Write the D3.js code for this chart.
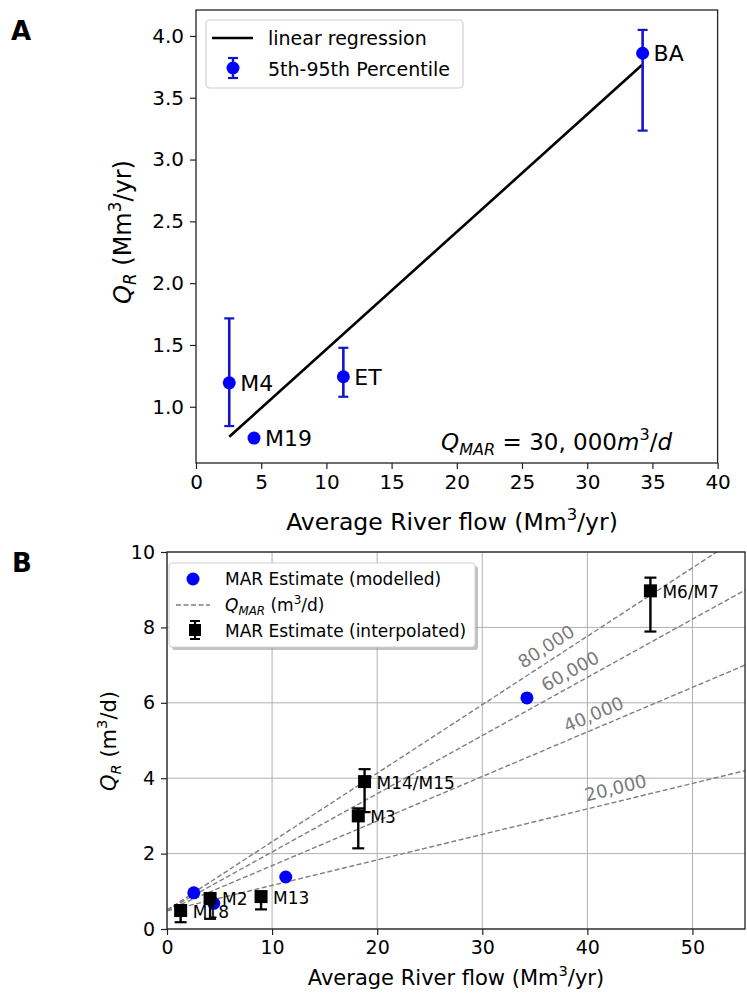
<!DOCTYPE html>
<html><head><meta charset="utf-8">
<script src="https://cdn.jsdelivr.net/npm/d3@7"></script>
<style>body{margin:0;background:#fff}svg{display:block}text{font-family:"DejaVu Sans",sans-serif}</style>
</head><body>
<svg id="c" width="747" height="994"></svg>
<script>
// ---------- Panel A data ----------
const sitesA = ["M4", "M19", "ET", "BA"];
const riverA = [2.55, 4.45, 11.3, 34.25];
const qrA = [1.194, 0.747, 1.243, 3.86];
const qrA_lo = [0.844, 0.747, 1.081, 3.234];
const qrA_hi = [1.715, 0.747, 1.477, 4.049];
const regX = [2.55, 34.2];
const regY = [0.757, 3.765];
const ticksAx = [0, 5, 10, 15, 20, 25, 30, 35, 40];
const ticksAy = [1.0, 1.5, 2.0, 2.5, 3.0, 3.5, 4.0];

// ---------- Panel B data ----------
const modelX = [2.55, 4.45, 11.3, 34.25];
const modelY = [0.96, 0.68, 1.38, 6.13];
const interpSites = ["M18", "M2", "M13", "M3", "M14/M15", "M6/M7"];
const interpX = [1.3, 4.1, 8.95, 18.2, 18.8, 46.0];
const interpY = [0.49, 0.81, 0.86, 3.0, 3.91, 8.97];
const interpLo = [0.18, 0.27, 0.52, 2.14, 3.1, 7.89];
const interpHi = [0.58, 0.92, 0.98, 3.2, 4.24, 9.32];
const qmarLabels = ["20,000", "40,000", "60,000", "80,000"];
const qmarAt0 = [0.48, 0.5, 0.5, 0.5];
const qmarAt55 = [4.2, 7.0, 8.99, 10.49];
const qmarLabelX = [43.0, 41.1, 39.0, 36.8];
const ticksBx = [0, 10, 20, 30, 40, 50];
const ticksBy = [0, 2, 4, 6, 8, 10];

const svg = d3.select("#c");

function rich(g, x, y, segs, size, opts = {}) {
  const t = g.append("text").attr("x", x).attr("y", y).attr("font-size", size)
    .attr("fill", opts.fill || "#000").attr("text-anchor", opts.anchor || "start");
  if (opts.transform) t.attr("transform", opts.transform);
  let shift = 0;
  segs.forEach(s => {
    const sp = t.append("tspan").text(s.t);
    let target = 0, fs = size;
    if (s.sub) { target = 0.22 * size; fs = 0.7 * size; }
    if (s.sup) { target = -0.42 * size; fs = 0.7 * size; }
    sp.attr("dy", target - shift).attr("font-size", fs);
    if (s.it) sp.attr("font-style", "italic");
    shift = target;
  });
  return t;
}

// ================= Panel A =================
const xA = d3.scaleLinear().domain([0, 40]).range([196, 717.6]);
const yA = d3.scaleLinear().domain([0.545, 4.21]).range([463, 10]);
const gA = svg.append("g");

gA.append("g").attr("transform", "translate(0,463)")
  .call(d3.axisBottom(xA).tickValues(ticksAx).tickFormat(d3.format("d")).tickSize(6).tickPadding(6))
  .call(g => g.select(".domain").remove())
  .call(g => g.selectAll("text").attr("font-size", 20).attr("fill", "#000").style("font-family", "DejaVu Sans"))
  .call(g => g.selectAll("line").attr("stroke", "#222").attr("stroke-width", 1.2));
gA.append("g").attr("transform", "translate(196,0)")
  .call(d3.axisLeft(yA).tickValues(ticksAy).tickFormat(d3.format(".1f")).tickSize(6).tickPadding(6))
  .call(g => g.select(".domain").remove())
  .call(g => g.selectAll("text").attr("font-size", 20).attr("fill", "#000").style("font-family", "DejaVu Sans"))
  .call(g => g.selectAll("line").attr("stroke", "#222").attr("stroke-width", 1.2));
gA.append("rect").attr("x", xA(0)).attr("y", yA(4.21)).attr("width", xA(40) - xA(0)).attr("height", yA(0.545) - yA(4.21))
  .attr("fill", "none").attr("stroke", "#222").attr("stroke-width", 1.3);

// regression
gA.append("line").attr("x1", xA(regX[0])).attr("y1", yA(regY[0])).attr("x2", xA(regX[1])).attr("y2", yA(regY[1]))
  .attr("stroke", "#000").attr("stroke-width", 2.6);

// error bars + points
sitesA.forEach((s, i) => {
  const cx = xA(riverA[i]);
  if (qrA_hi[i] - qrA_lo[i] > 0.01) {
    gA.append("line").attr("x1", cx).attr("x2", cx).attr("y1", yA(qrA_lo[i])).attr("y2", yA(qrA_hi[i]))
      .attr("stroke", "#1414c8").attr("stroke-width", 2.6);
    [qrA_lo[i], qrA_hi[i]].forEach(v => gA.append("line").attr("x1", cx - 5).attr("x2", cx + 5)
      .attr("y1", yA(v)).attr("y2", yA(v)).attr("stroke", "#1414c8").attr("stroke-width", 2.2));
  }
  gA.append("circle").attr("cx", cx).attr("cy", yA(qrA[i])).attr("r", 6.5).attr("fill", "#0000ff");
  gA.append("text").attr("x", cx + 11).attr("y", yA(qrA[i]) + 8).attr("font-size", 22).text(s);
});

// legend A
gA.append("rect").attr("x", 206).attr("y", 20).attr("width", 257).attr("height", 68).attr("rx", 4)
  .attr("fill", "#fff").attr("fill-opacity", 0.85).attr("stroke", "#d0d0d0").attr("stroke-width", 1.2);
gA.append("line").attr("x1", 212).attr("x2", 253).attr("y1", 38).attr("y2", 38).attr("stroke", "#000").attr("stroke-width", 2.6);
gA.append("text").attr("x", 268).attr("y", 45).attr("font-size", 19).text("linear regression");
gA.append("line").attr("x1", 233).attr("x2", 233).attr("y1", 58).attr("y2", 78).attr("stroke", "#1414c8").attr("stroke-width", 2.4);
[58, 78].forEach(v => gA.append("line").attr("x1", 228).attr("x2", 238).attr("y1", v).attr("y2", v).attr("stroke", "#1414c8").attr("stroke-width", 2.2));
gA.append("circle").attr("cx", 233).attr("cy", 68).attr("r", 6.5).attr("fill", "#0000ff");
gA.append("text").attr("x", 268).attr("y", 76).attr("font-size", 19).text("5th-95th Percentile");

// annotation
rich(gA, 672, 450, [{t: "Q", it: true}, {t: "MAR", it: true, sub: true}, {t: " = 30, 000"}, {t: "m", it: true}, {t: "3", sup: true}, {t: "/"}, {t: "d", it: true}], 23, {anchor: "end"});

// axis labels A
rich(gA, 452, 530, [{t: "Average River flow (Mm"}, {t: "3", sup: true}, {t: "/yr)"}], 23.5, {anchor: "middle"});
rich(gA, 0, 0, [{t: "Q", it: true}, {t: "R", it: true, sub: true}, {t: " (Mm"}, {t: "3", sup: true}, {t: "/yr)"}], 24,
  {anchor: "middle", transform: "translate(131,232) rotate(-90)"});

svg.append("text").attr("x", 11).attr("y", 40).attr("font-size", 26).attr("font-weight", "bold").text("A");

// ================= Panel B =================
const xB = d3.scaleLinear().domain([0, 55]).range([167, 745]);
const yB = d3.scaleLinear().domain([0, 10]).range([929, 552]);
const gB = svg.append("g");

// grid
ticksBx.forEach(v => gB.append("line").attr("x1", xB(v)).attr("x2", xB(v)).attr("y1", yB(0)).attr("y2", yB(10)).attr("stroke", "#b0b0b0").attr("stroke-width", 1));
ticksBy.forEach(v => gB.append("line").attr("x1", xB(0)).attr("x2", xB(55)).attr("y1", yB(v)).attr("y2", yB(v)).attr("stroke", "#b0b0b0").attr("stroke-width", 1));

gB.append("g").attr("transform", "translate(0,929)")
  .call(d3.axisBottom(xB).tickValues(ticksBx).tickFormat(d3.format("d")).tickSize(6).tickPadding(6))
  .call(g => g.select(".domain").remove())
  .call(g => g.selectAll("text").attr("font-size", 19).attr("fill", "#000").style("font-family", "DejaVu Sans"))
  .call(g => g.selectAll("line").attr("stroke", "#222").attr("stroke-width", 1.2));
gB.append("g").attr("transform", "translate(167,0)")
  .call(d3.axisLeft(yB).tickValues(ticksBy).tickFormat(d3.format("d")).tickSize(6).tickPadding(6))
  .call(g => g.select(".domain").remove())
  .call(g => g.selectAll("text").attr("font-size", 19).attr("fill", "#000").style("font-family", "DejaVu Sans"))
  .call(g => g.selectAll("line").attr("stroke", "#222").attr("stroke-width", 1.2));

// clip
svg.append("clipPath").attr("id", "clipB").append("rect").attr("x", xB(0)).attr("y", yB(10)).attr("width", xB(55) - xB(0)).attr("height", yB(0) - yB(10));

// Q_MAR lines
const lineG = gB.append("g").attr("clip-path", "url(#clipB)");
qmarLabels.forEach((lab, i) => {
  lineG.append("line").attr("x1", xB(0)).attr("y1", yB(qmarAt0[i])).attr("x2", xB(55)).attr("y2", yB(qmarAt55[i]))
    .attr("stroke", "#7f7f7f").attr("stroke-width", 1.4).attr("stroke-dasharray", "5,2.5");
});
qmarLabels.forEach((lab, i) => {
  const slope = (qmarAt55[i] - qmarAt0[i]) / 55;
  const lx = qmarLabelX[i];
  const ly = qmarAt0[i] + slope * lx;
  const ang = Math.atan2(yB(qmarAt55[i]) - yB(qmarAt0[i]), xB(55) - xB(0)) * 180 / Math.PI;
  const px = xB(lx), py = yB(ly);
  gB.append("text").attr("transform", `translate(${px},${py}) rotate(${ang}) translate(0,-14)`)
    .attr("text-anchor", "middle").attr("dominant-baseline", "central").attr("font-size", 18).attr("fill", "#7a7a7a").text(lab);
});

// modelled points
modelX.forEach((x, i) => gB.append("circle").attr("cx", xB(x)).attr("cy", yB(modelY[i])).attr("r", 6.5).attr("fill", "#0000ff"));

// interpolated
interpSites.forEach((s, i) => {
  const cx = xB(interpX[i]);
  gB.append("line").attr("x1", cx).attr("x2", cx).attr("y1", yB(interpLo[i])).attr("y2", yB(interpHi[i])).attr("stroke", "#000").attr("stroke-width", 2.4);
  [interpLo[i], interpHi[i]].forEach(v => gB.append("line").attr("x1", cx - 6).attr("x2", cx + 6).attr("y1", yB(v)).attr("y2", yB(v)).attr("stroke", "#000").attr("stroke-width", 2.2));
  gB.append("rect").attr("x", cx - 6.5).attr("y", yB(interpY[i]) - 6.5).attr("width", 13).attr("height", 13).attr("fill", "#000");
  gB.append("text").attr("x", cx + 12).attr("y", yB(interpY[i]) + 7).attr("font-size", 17).text(s);
});

// spine B
gB.append("rect").attr("x", xB(0)).attr("y", yB(10)).attr("width", xB(55) - xB(0)).attr("height", yB(0) - yB(10))
  .attr("fill", "none").attr("stroke", "#222").attr("stroke-width", 1.3);

// legend B
gB.append("rect").attr("x", 172).attr("y", 566).attr("width", 306).attr("height", 84).attr("rx", 3).attr("fill", "#9a9a9a").attr("opacity", 0.6);
gB.append("rect").attr("x", 169).attr("y", 563).attr("width", 306).attr("height", 84).attr("rx", 3)
  .attr("fill", "#fff").attr("stroke", "#d0d0d0").attr("stroke-width", 1);
gB.append("circle").attr("cx", 193).attr("cy", 579).attr("r", 6.5).attr("fill", "#0000ff");
gB.append("text").attr("x", 225).attr("y", 585).attr("font-size", 17).text("MAR Estimate (modelled)");
gB.append("line").attr("x1", 176).attr("x2", 210).attr("y1", 605).attr("y2", 605).attr("stroke", "#7f7f7f").attr("stroke-width", 1.4).attr("stroke-dasharray", "5,2.5");
rich(gB, 225, 611, [{t: "Q", it: true}, {t: "MAR", it: true, sub: true}, {t: " (m"}, {t: "3", sup: true}, {t: "/d)"}], 17);
gB.append("line").attr("x1", 195).attr("x2", 195).attr("y1", 621).attr("y2", 639).attr("stroke", "#000").attr("stroke-width", 2.2);
[621, 639].forEach(v => gB.append("line").attr("x1", 190).attr("x2", 200).attr("y1", v).attr("y2", v).attr("stroke", "#000").attr("stroke-width", 2));
gB.append("rect").attr("x", 189).attr("y", 624).attr("width", 12).attr("height", 12).attr("fill", "#000");
gB.append("text").attr("x", 225).attr("y", 637).attr("font-size", 17).text("MAR Estimate (interpolated)");

// axis labels B
rich(gB, 456, 985, [{t: "Average River flow (Mm"}, {t: "3", sup: true}, {t: "/yr)"}], 21, {anchor: "middle"});
rich(gB, 0, 0, [{t: "Q", it: true}, {t: "R", it: true, sub: true}, {t: " (m"}, {t: "3", sup: true}, {t: "/d)"}], 21,
  {anchor: "middle", transform: "translate(116,741) rotate(-90)"});

svg.append("text").attr("x", 12).attr("y", 572).attr("font-size", 26).attr("font-weight", "bold").text("B");
</script>
</body></html>
